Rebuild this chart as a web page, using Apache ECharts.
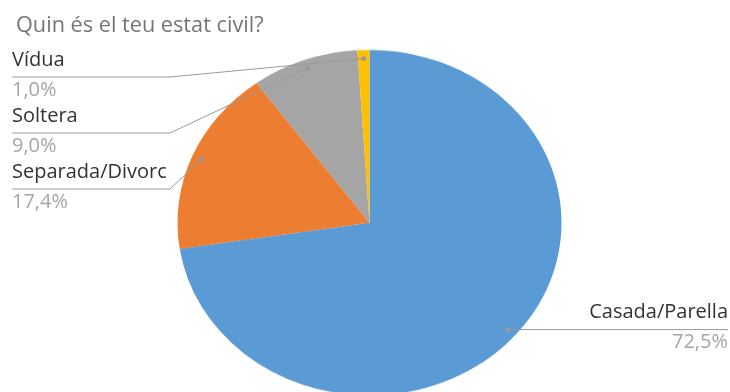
<!DOCTYPE html>
<html>
<head>
<meta charset="utf-8">
<script src="https://cdn.jsdelivr.net/npm/echarts@6/dist/echarts.min.js"></script>
<style>
  html, body { margin: 0; padding: 0; background: #fff; }
  #wrap { position: relative; width: 730px; height: 392px; overflow: hidden; }
  /* the pie in the reference is slightly squashed vertically */
  #pie { position: absolute; left: 0; top: 0; width: 730px; height: 436px; transform: scaleY(0.9); transform-origin: 0 0; }
  #labels { position: absolute; left: 0; top: 0; width: 730px; height: 392px; }
</style>
</head>
<body>
<div id="wrap">
  <div id="pie"></div>
  <div id="labels"></div>
</div>
<script>
var titleText = 'Quin és el teu estat civil?';
var names = ['Casada/Parella', 'Separada/Divorc', 'Soltera', 'Vídua'];
var values = [72.5, 17.4, 9.0, 1.0];
var colors = ['#5B9BD5', '#ED7D31', '#A5A5A5', '#FFC000'];

var FONT = 'Open Sans';
var SQUASH = 0.9;
var cx = 369.5, cy = 222.7, R = 192;

function pieData (transparent) {
  return names.map(function (n, i) {
    return {
      name: n,
      value: values[i],
      itemStyle: { color: transparent ? 'rgba(0,0,0,0)' : colors[i] }
    };
  });
}

// 1. the slices
var pieChart = echarts.init(document.getElementById('pie'));
pieChart.setOption({
  animation: false,
  series: [{
    type: 'pie',
    center: [cx, cy / SQUASH],
    radius: R,
    startAngle: 90,
    clockwise: true,
    silent: true,
    label: { show: false },
    labelLine: { show: false },
    data: pieData(false)
  }]
});

// 2. title + labels on top
var dots = [];
var labelChart = echarts.init(document.getElementById('labels'));
var option = {
  animation: false,
  title: {
    text: titleText,
    left: 11,
    top: 10,
    textStyle: { fontFamily: FONT, fontSize: 21.7, fontWeight: 'normal', color: '#757575' }
  },
  series: [{
    type: 'pie',
    center: [cx, cy],
    radius: R,
    startAngle: 90,
    clockwise: true,
    silent: true,
    emphasis: { disabled: true },
    label: {
      show: true,
      position: 'outside',
      overflow: 'none',
      formatter: function (p) {
        return '{b|' + p.name + '}\n{c|' + p.value.toFixed(1).replace('.', ',') + '%}';
      },
      rich: {
        b: { fontFamily: FONT, fontSize: 20, color: '#333333', lineHeight: 34 },
        c: { fontFamily: FONT, fontSize: 20, color: '#A6A6A6', lineHeight: 26 }
      }
    },
    labelLine: {
      show: true,
      lineStyle: { color: '#9A9A9A', width: 1 }
    },
    labelLayout: function (p) {
      var i = p.dataIndex;
      var e = p.labelLinePoints[0];
      // anchor point inside the (squashed) slice
      var dot = [cx + (e[0] - cx) * 0.95, cy + (e[1] - cy) * 0.95 * SQUASH];
      dots[i] = dot;
      if (i === 0) {
        return {
          x: 728, y: dot[1] - 34, align: 'right', verticalAlign: 'top',
          labelLinePoints: [dot, [dot[0] + 10, dot[1]], [728, dot[1]]]
        };
      }
      var ly = 77 + 56 * (names.length - 1 - i);
      return {
        x: 12, y: ly - 34, align: 'left', verticalAlign: 'top',
        labelLinePoints: [dot, [170, ly], [12, ly]]
      };
    },
    data: pieData(true)
  }]
};
labelChart.setOption(option);

// little grey dots where the leader lines start
labelChart.setOption({
  graphic: dots.map(function (d) {
    return { type: 'circle', shape: { cx: d[0], cy: d[1], r: 2.5 }, style: { fill: '#9A9A9A' }, silent: true };
  })
});
</script>
</body>
</html>
